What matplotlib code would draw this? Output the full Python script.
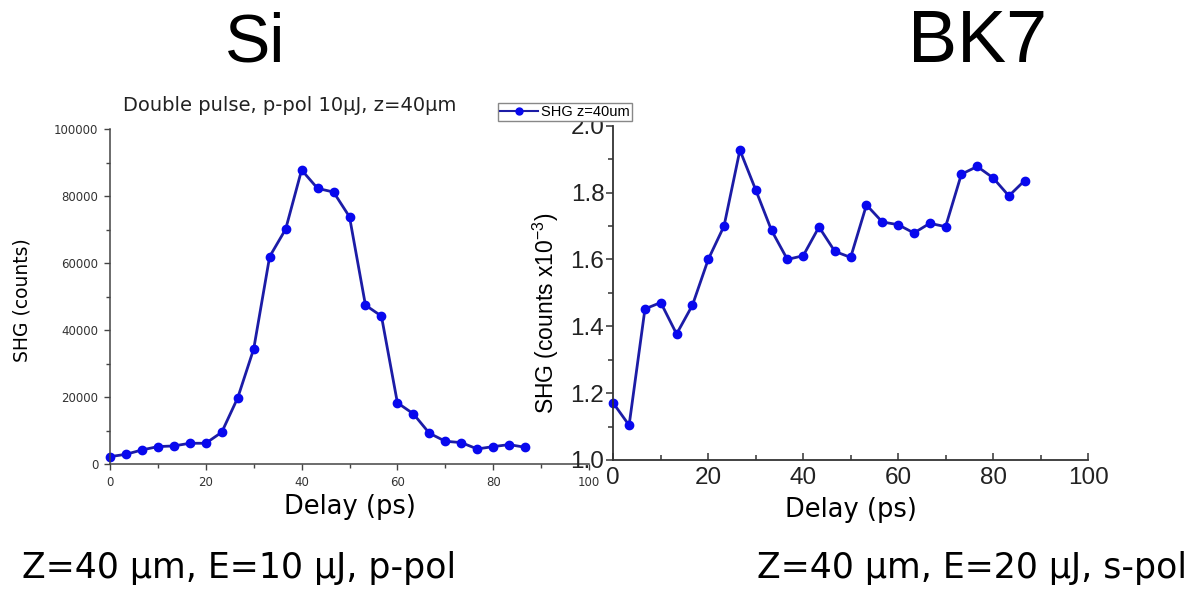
import matplotlib
matplotlib.use("Agg")
import matplotlib.pyplot as plt
from matplotlib.ticker import MultipleLocator, FormatStrFormatter
from matplotlib.lines import Line2D

plt.rcParams["font.family"] = ["Liberation Sans", "DejaVu Sans"]
plt.rcParams["mathtext.fontset"] = "custom"
plt.rcParams["mathtext.rm"] = "Liberation Sans"
plt.rcParams["mathtext.it"] = "Liberation Sans:italic"

# delay steps (ps), same for both scans
delay = [0, 3.33, 6.67, 10, 13.33, 16.67, 20, 23.33, 26.67, 30, 33.33, 36.67, 40,
         43.33, 46.67, 50, 53.33, 56.67, 60, 63.33, 66.67, 70, 73.33, 76.67, 80,
         83.33, 86.67]

# Si, double pulse p-pol 10uJ
si_counts = [2200, 2900, 4200, 5200, 5400, 6200, 6200, 9500, 19800, 34400, 62000,
             70200, 87900, 82400, 81300, 73900, 47500, 44200, 18300, 15000, 9200,
             6800, 6400, 4500, 5200, 5800, 5000]

# BK7, s-pol 20uJ (counts x1e-3)
bk7_counts = [1.170, 1.104, 1.452, 1.471, 1.377, 1.463, 1.600, 1.700, 1.927, 1.808,
              1.687, 1.600, 1.611, 1.697, 1.624, 1.606, 1.763, 1.712, 1.704, 1.679,
              1.708, 1.698, 1.855, 1.878, 1.844, 1.790, 1.836]

line_col = "#1c1ca6"
mark_col = "#0808ee"
W, H = 1195, 590

fig = plt.figure(figsize=(W / 100, H / 100), dpi=100)


def fx(x):
    return x / W


def fy(y):
    return 1 - y / H


# ---- left panel (Si) ----
ax1 = fig.add_axes([fx(110), fy(464), (589 - 110) / W, (464 - 129.5) / H])
ax1.plot(delay, si_counts, "-o", color=line_col, lw=2, ms=6,
         mfc=mark_col, mec=mark_col, clip_on=False)
ax1.set_xlim(0, 100)
ax1.set_ylim(0, 100000)
ax1.xaxis.set_major_locator(MultipleLocator(20))
ax1.xaxis.set_minor_locator(MultipleLocator(10))
ax1.yaxis.set_major_locator(MultipleLocator(20000))
ax1.yaxis.set_minor_locator(MultipleLocator(10000))
for s in ["top", "right"]:
    ax1.spines[s].set_visible(False)
for s in ["left", "bottom"]:
    ax1.spines[s].set_color("#444444")
    ax1.spines[s].set_linewidth(1.1)
ax1.tick_params(which="both", direction="out", color="#444444", labelcolor="#333333",
                labelsize=8.5, pad=4.5, labelfontfamily="DejaVu Sans")
ax1.tick_params(which="major", length=4, width=1)
ax1.tick_params(which="minor", length=3, width=1)
ax1.set_xlabel("Delay (ps)", fontsize=18.5, family="DejaVu Sans", va="center")
ax1.xaxis.set_label_coords(0.5, -0.13)
ax1.set_ylabel("SHG (counts)", fontsize=13.5, family="DejaVu Sans", va="center")
ax1.yaxis.set_label_coords(-0.184, 0.49)

# ---- right panel (BK7) ----
ax2 = fig.add_axes([fx(613.3), fy(460), (1088 - 613.3) / W, (460 - 125.7) / H])
ax2.plot(delay, bk7_counts, "-o", color=line_col, lw=2, ms=6,
         mfc=mark_col, mec=mark_col, clip_on=False)
ax2.set_xlim(0, 100)
ax2.set_ylim(1.0, 2.0)
ax2.xaxis.set_major_locator(MultipleLocator(20))
ax2.xaxis.set_minor_locator(MultipleLocator(10))
ax2.yaxis.set_major_locator(MultipleLocator(0.2))
ax2.yaxis.set_minor_locator(MultipleLocator(0.1))
ax2.yaxis.set_major_formatter(FormatStrFormatter("%.1f"))
for s in ["top", "right"]:
    ax2.spines[s].set_visible(False)
for s in ["left", "bottom"]:
    ax2.spines[s].set_color("#333333")
    ax2.spines[s].set_linewidth(1.3)
ax2.tick_params(which="both", color="#333333", labelcolor="#222222", labelsize=17.5,
                labelfontfamily="Liberation Sans")
ax2.tick_params(axis="y", which="both", direction="out", pad=1.5)
ax2.tick_params(axis="x", which="both", direction="in", pad=5)
ax2.tick_params(which="major", length=5, width=1.1)
ax2.tick_params(which="minor", length=3.5, width=1.1)
ax2.set_xlabel("Delay (ps)", fontsize=18.5, family="DejaVu Sans", va="center")
ax2.xaxis.set_label_coords(0.5, -0.15)
ax2.set_ylabel("SHG (counts x10$^{-3}$)", fontsize=16.5, va="center")
ax2.yaxis.set_label_coords(-0.142, 0.44)

# legend sitting between the panels
handle = Line2D([], [], color=line_col, lw=1.5, marker="o", ms=5,
                mfc=mark_col, mec=mark_col)
fig.legend([handle], ["SHG z=40um"], loc="upper left",
           bbox_to_anchor=(fx(498), fy(103)), borderaxespad=0,
           prop={"family": "Liberation Sans", "size": 10.5},
           frameon=True, fancybox=False, edgecolor="#888888", framealpha=1,
           handlelength=2.6, handletextpad=0.2, borderpad=0.15)

# titles and captions
fig.text(fx(289.5), fy(111), "Double pulse, p-pol 10μJ, z=40μm",
         ha="center", va="baseline", fontsize=14, family="DejaVu Sans", color="#222222")
fig.text(fx(255), fy(62), "Si", ha="center", va="baseline", fontsize=49)
fig.text(fx(978), fy(62), "BK7", ha="center", va="baseline", fontsize=53)
fig.text(fx(22), fy(578), "Z=40 μm, E=10 μJ, p-pol", ha="left", va="baseline",
         fontsize=25, family="DejaVu Sans")
fig.text(fx(1187), fy(578), "Z=40 μm, E=20 μJ, s-pol", ha="right", va="baseline",
         fontsize=25, family="DejaVu Sans")

fig.savefig("out.png", dpi=100)
